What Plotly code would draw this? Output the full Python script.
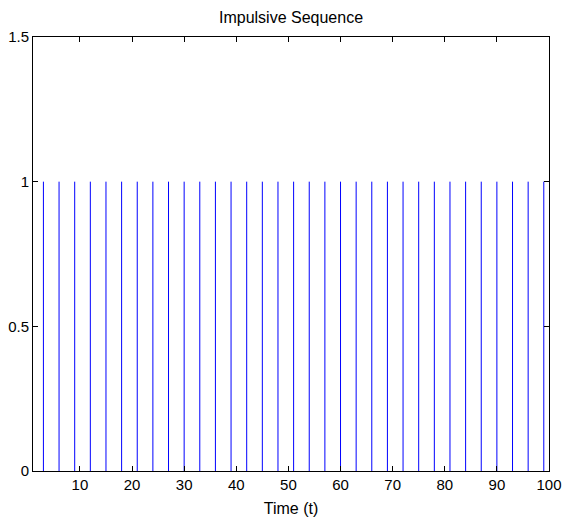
import plotly.graph_objects as go

t = [3, 6, 9, 12, 15, 18, 21, 24, 27, 30, 33, 36, 39, 42, 45, 48, 51, 54, 57, 60,
     63, 66, 69, 72, 75, 78, 81, 84, 87, 90, 93, 96, 99]
amp = [1, 1, 1, 1, 1, 1, 1, 1, 1, 1, 1, 1, 1, 1, 1, 1, 1, 1, 1, 1,
       1, 1, 1, 1, 1, 1, 1, 1, 1, 1, 1, 1, 1]
x_ticks = [10, 20, 30, 40, 50, 60, 70, 80, 90, 100]
y_ticks = [0, 0.5, 1, 1.5]
y_tick_labels = ["0", "0.5", "1", "1.5"]

xs, ys = [], []
for ti, a in zip(t, amp):
    xs += [ti, ti, None]
    ys += [0, a, None]

fig = go.Figure()
fig.add_trace(go.Scatter(x=xs, y=ys, mode="lines",
                         line=dict(color="#0000ff", width=1), hoverinfo="skip"))

FAM = "Liberation Sans, Arial, sans-serif"
fig.update_layout(
    width=565, height=526,
    margin=dict(l=33, r=16, t=37, b=55, autoexpand=False),
    paper_bgcolor="white", plot_bgcolor="white",
    showlegend=False,
    font=dict(family=FAM, size=15, color="black"),
    title=dict(text="Impulsive Sequence", x=0.5, xref="paper", xanchor="center",
               y=1, yref="paper", yanchor="bottom", pad=dict(b=14),
               font=dict(family=FAM, size=16, color="black")),
    xaxis=dict(range=[1, 100], tickvals=x_ticks, ticks="inside", ticklen=5,
               tickcolor="black", showline=True, linecolor="black", linewidth=1,
               mirror="ticks", showgrid=False, zeroline=False, automargin=False,
               tickfont=dict(family=FAM, size=15),
               ticklabelstandoff=0,
               title=dict(text="Time (t)", standoff=10,
                          font=dict(family=FAM, size=16))),
    yaxis=dict(range=[0, 1.5], tickvals=y_ticks, ticktext=y_tick_labels,
               ticks="inside", ticklen=5, tickcolor="black", showline=True,
               linecolor="black", linewidth=1, mirror="ticks", showgrid=False,
               zeroline=False, automargin=False, tickfont=dict(family=FAM, size=15)),
)
fig.write_html("out.html")
